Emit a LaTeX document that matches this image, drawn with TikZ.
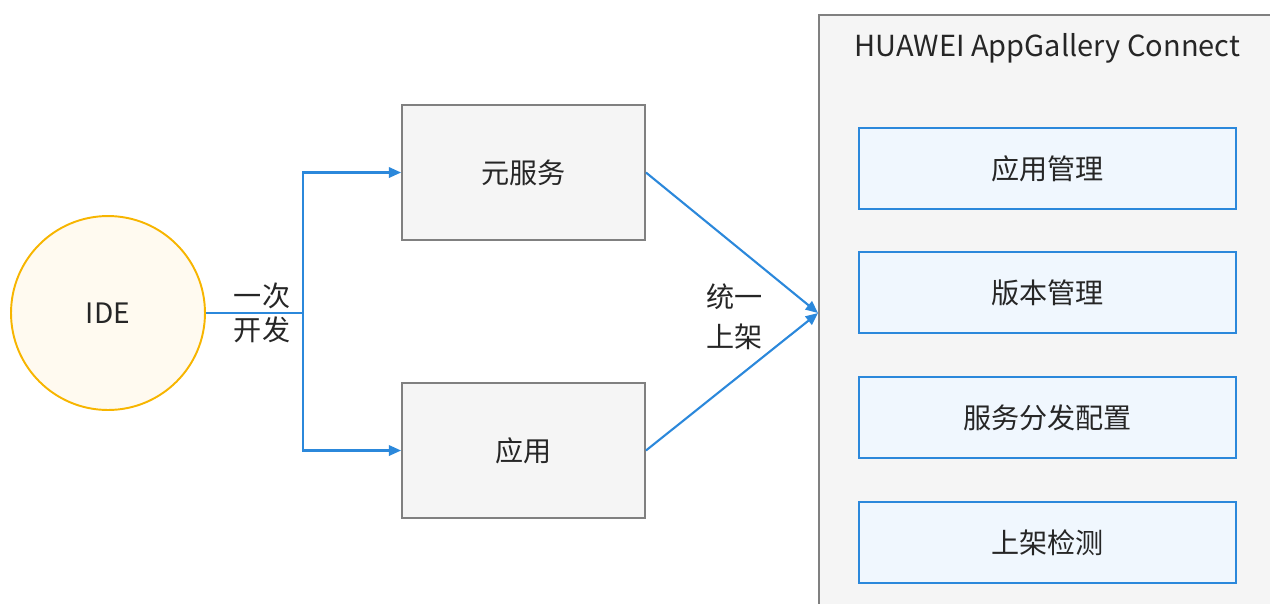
\documentclass[tikz,border=0pt]{standalone}
\usepackage{fontspec}
\newfontfamily\cjk{Noto Sans CJK SC}
\usetikzlibrary{arrows.meta}
\definecolor{ideyellow}{HTML}{F7B500}
\definecolor{idefill}{HTML}{FFFAF0}
\definecolor{linkblue}{HTML}{2B88DB}
\definecolor{boxgrey}{HTML}{808080}
\definecolor{boxfill}{HTML}{F5F5F5}
\definecolor{itemfill}{HTML}{F0F7FE}

\begin{document}
\begin{tikzpicture}[x=0.02cm, y=-0.02cm,
    every node/.style={font=\cjk\fontsize{16}{19}\selectfont, text=black!85},
    ide circle/.style={draw=ideyellow, fill=idefill, circle, line width=1.1pt, minimum size=3.88cm, inner sep=0pt},
    grey box/.style={draw=boxgrey, fill=boxfill, line width=1.1pt, minimum width=4.86cm, minimum height=2.7cm},
    item box/.style={draw=linkblue, fill=itemfill, line width=1.1pt, minimum width=7.54cm, minimum height=1.62cm},
    link/.style={draw=linkblue, line width=1.2pt},
    tip/.style={-{Triangle[length=7pt, width=6pt]}}]
        \clip (0,0) rectangle (1270,603);

        % Define the nodes
        \node[ide circle] (ide) at (108,313) {IDE};
        \node[grey box] (svc) at (523.5,172.5) {元服务};
        \node[grey box] (app) at (523.5,450.5) {应用};
        \node[draw=boxgrey, fill=boxfill, line width=1.1pt, anchor=north west, minimum width=10cm, minimum height=12.8cm] (agc) at (818,14) {};
        \node[font=\cjk\fontsize{16.5}{20}\selectfont] (title) at (1047.5,48) {HUAWEI AppGallery Connect};
        \node[item box] (mgmt) at (1047.5,168.5) {应用管理};
        \node[item box] (ver) at (1047.5,292.5) {版本管理};
        \node[item box] (dist) at (1047.5,417.5) {服务分发配置};
        \node[item box] (check) at (1047.5,542.5) {上架检测};

        \coordinate (split) at (303,313);
        \coordinate (hub) at (818,313);

        \begin{scope}[every node/.append style={align=center}]
        \draw[link] (ide) -- (split);
        \draw[link, tip] (split) |- (svc.west);
        \draw[link, tip] (split) |- (app.west);
        \draw[link, tip] (svc.east) -- (hub);
        \draw[link, tip] (app.east) -- (hub);
        \node[font=\cjk\fontsize{16}{19.3}\selectfont] (once) at (262,313) {一次\\开发};
        \node[font=\cjk\fontsize{16}{23}\selectfont] (publish) at (734.5,317) {统一\\上架};
        \end{scope}

    \end{tikzpicture}
\end{document}
